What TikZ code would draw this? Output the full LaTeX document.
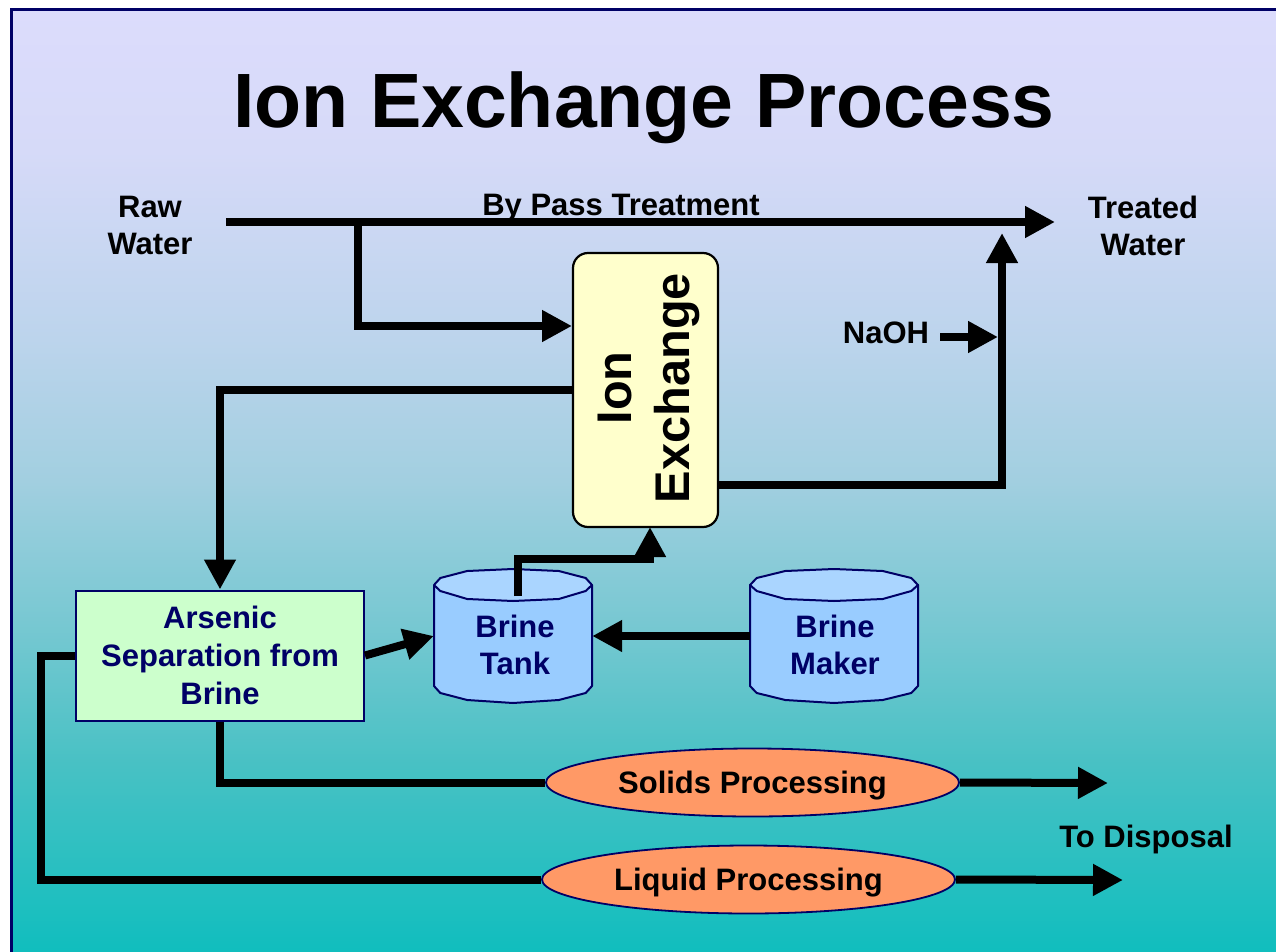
\documentclass[tikz,border=0pt]{standalone}
\usepackage{fontspec}
\setmainfont{Liberation Sans}
\usetikzlibrary{arrows.meta,shapes.geometric}
\definecolor{navy}{HTML}{000066}
\definecolor{bga}{HTML}{DCDCFC}
\definecolor{bgb}{HTML}{D6DAF8}
\definecolor{bgc}{HTML}{BCD4EC}
\definecolor{bgd}{HTML}{A2CFE0}
\definecolor{bge}{HTML}{78C8D2}
\definecolor{bgf}{HTML}{48C1C4}
\definecolor{bgg}{HTML}{10BEBE}
\definecolor{ixfill}{HTML}{FFFFCC}
\definecolor{asfill}{HTML}{CCFFCC}
\definecolor{procfill}{HTML}{FF9966}
\definecolor{cylbodyc}{HTML}{99CCFF}
\definecolor{cyltopc}{HTML}{AAD5FF}
\pgfdeclareverticalshading{bgshade}{100bp}{color(0bp)=(bgg); color(25bp)=(bgg); color(35bp)=(bgf); color(42.5bp)=(bge); color(50bp)=(bgd); color(57.5bp)=(bgc); color(67.5bp)=(bgb); color(75bp)=(bga); color(100bp)=(bga)}
\newcommand{\drawcyl}[4]{%
 \begin{scope}[shift={(#1,#2)}]
  \filldraw[cylbody] (0,16) -- (0,#4-17) -- (0.04*#3,#4-10) -- (0.21*#3,#4-3) -- (0.5*#3,#4) -- (0.79*#3,#4-3) -- (0.96*#3,#4-10) -- (#3,#4-17) -- (#3,16) -- cycle;
  \filldraw[cyltop] (0,16) -- (0.04*#3,9) -- (0.21*#3,2) -- (0.5*#3,0) -- (0.79*#3,2) -- (0.96*#3,9) -- (#3,16) -- (0.96*#3,22) -- (0.79*#3,30) -- (0.5*#3,32) -- (0.21*#3,30) -- (0.04*#3,22) -- cycle;
 \end{scope}}
\begin{document}
\begin{tikzpicture}[x=1pt,y=-1pt,
  lbl/.style={font=\fontsize{31}{37}\selectfont\bfseries, align=center, inner sep=0pt},
  navylbl/.style={lbl, text=navy},
  pipe/.style={line width=8pt},
  flow/.style={line width=8pt, -{Triangle[length=30pt,width=30pt]}},
  cylbody/.style={fill=cylbodyc, draw=navy, line width=2pt, line join=round},
  cyltop/.style={fill=cyltopc, draw=navy, line width=2pt, line join=round},
  procbox/.style={ellipse, fill=procfill, draw=navy, line width=1.8pt, minimum width=413pt, minimum height=68pt, inner sep=0pt, text depth=0pt, font=\fontsize{31}{37}\selectfont\bfseries},
  shapebox/.style={inner sep=0pt, draw=none}]
\useasboundingbox (0,0) rectangle (1276,952);
\fill[white] (0,0) rectangle (1276,952);
\shade[shading=bgshade] (11,9) rectangle (1276,952);
\draw[navy, line width=3pt] (11.5,952) -- (11.5,9.5) -- (1276,9.5);

% title
\node[font=\fontsize{77}{90}\selectfont\bfseries, inner sep=0pt, anchor=base] (title) at (644,128) {Ion Exchange Process};

% labels
\node[lbl] (raw) at (150,225.5) {Raw\\Water};
\node[lbl] (tw) at (1143,225.5) {Treated\\Water};
\node[lbl, anchor=base] (bypass) at (621,215) {By Pass Treatment};
\node[lbl, anchor=base] (naoh) at (886,343) {NaOH};
\node[lbl, anchor=base] (disp) at (1146,847) {To Disposal};

% ion exchange
\node[shapebox, draw=black, fill=ixfill, line width=2.2pt, rounded corners=15pt, minimum width=145pt, minimum height=274pt] (ix) at (645.5,390) {};
\node[font=\fontsize{48.7}{58}\selectfont\bfseries, align=center, inner sep=0pt, rotate=90] (ixt) at (649,388) {Ion\\Exchange};

% arsenic separation
\node[shapebox, draw=navy, fill=asfill, line width=2pt, minimum width=288pt, minimum height=130pt, font=\fontsize{31}{38}\selectfont\bfseries, text=navy, align=center] (as) at (220,655.5) {Arsenic\\Separation from\\Brine};

% tanks
\drawcyl{434}{569}{158}{134}
\drawcyl{750}{569}{168}{134}
\node[shapebox, minimum width=158pt, minimum height=134pt] (bt) at (513,636) {};
\node[shapebox, minimum width=168pt, minimum height=134pt] (bm) at (834,636) {};
\node[navylbl] (btl) at (515,645) {Brine\\Tank};
\node[navylbl] (bml) at (835,645) {Brine\\Maker};

% processing
\node[procbox] (so) at (752.5,782.5) {Solids Processing};
\node[procbox] (lq) at (748.5,879.5) {Liquid Processing};

% coordinates
\coordinate (rawout) at (226,222);
\coordinate (twin) at (1055,222);
\coordinate (br) at (358,222);
\coordinate (ixin) at (572,326);
\coordinate (ixout) at (718,485);
\coordinate (twup) at (1002,233);
\coordinate (naohs) at (940,337);
\coordinate (naohe) at (998,337);
\coordinate (btout) at (518,596);
\coordinate (ixbot) at (650,527);
\coordinate (disp1) at (1108,783);
\coordinate (disp2) at (1123,880);

% connectors
\draw[flow] (rawout) -- (twin);
\draw[flow] (br) |- (ixin);
\draw[flow] (ix.west) -| (as.north);
\draw[flow] (ixout) -| (twup);
\draw[flow] (naohs) -- (naohe);
\draw[flow] (as.east) -- (bt.west);
\draw[flow] (bm.west) -- (bt.east);
\draw[flow] (btout) -- ++(0,-37) -| (ixbot);
\draw[pipe] (as.west) -- ++(-34,0) |- (lq.west);
\draw[pipe] (as.south) |- (so.west);
\draw[flow] (so.east) -- (disp1);
\draw[flow] (lq.east) -- (disp2);
\end{tikzpicture}
\end{document}
